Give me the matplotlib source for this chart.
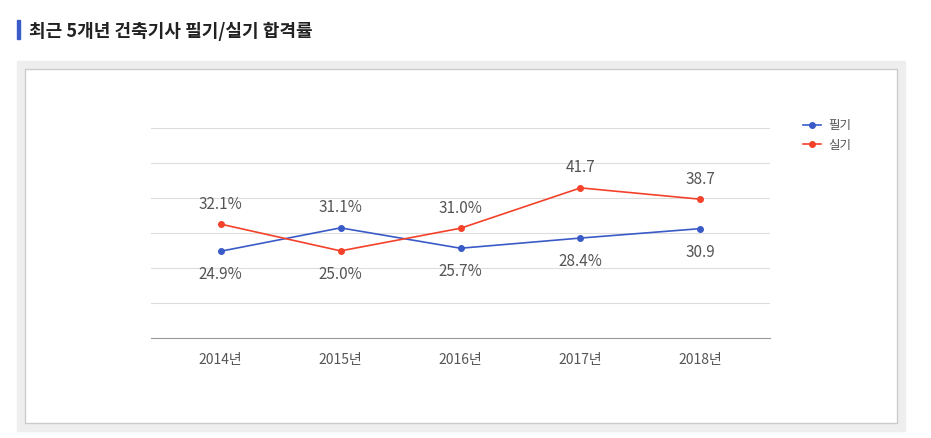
import matplotlib.pyplot as plt
from matplotlib.patches import Rectangle

plt.rcParams['font.family'] = ['Noto Sans CJK KR', 'Noto Sans CJK JP', 'Noto Sans CJK SC', 'DejaVu Sans']

years = ['2014년', '2015년', '2016년', '2017년', '2018년']
written = [24.9, 31.1, 25.7, 28.4, 30.9]
practical = [32.1, 25.0, 31.0, 41.7, 38.7]
written_labels = ['24.9%', '31.1%', '25.7%', '28.4%', '30.9']
practical_labels = ['32.1%', '25.0%', '31.0%', '41.7', '38.7']
written_above = [False, True, False, False, False]
practical_above = [True, False, True, True, True]

W, H = 931, 439
fig = plt.figure(figsize=(W / 100, H / 100), dpi=100)

def fx(px):
    return px / W

def fy(py):
    return 1 - py / H

# title and background panels
fig.patches.append(Rectangle((fx(17), fy(40)), 3 / W, 19 / H, transform=fig.transFigure,
                             color='#3b5bc8'))
fig.text(fx(29), fy(31), '최근 5개년 건축기사 필기/실기 합격률', fontsize=13, fontweight='bold',
         va='center', color='#222222')
fig.patches.append(Rectangle((fx(17), fy(432)), 888 / W, 370 / H, transform=fig.transFigure,
                             color='#eeeeee', zorder=0))
fig.patches.append(Rectangle((fx(25), fy(424)), 872 / W, 354 / H, transform=fig.transFigure,
                             facecolor='white', edgecolor='#cccccc', lw=1, zorder=0.5))

ax = fig.add_axes([fx(151), fy(339), 619 / W, 210 / H])
ax.set_zorder(3)
ax.set_facecolor('none')
ymin, step = 1.9, 9.28
ax.set_ylim(ymin, ymin + 6 * step)
ax.set_xlim(-0.58, 4.58)
for i in range(1, 7):
    ax.axhline(ymin + i * step, color='#dddddd', lw=0.8, zorder=0)
for s in ['top', 'right', 'left']:
    ax.spines[s].set_visible(False)
ax.spines['bottom'].set_color('#999999')
ax.set_yticks([])
x = range(len(years))
ax.set_xticks(list(x))
ax.set_xticklabels(years, fontsize=10, color='#555555')
ax.tick_params(axis='x', length=0, pad=10)

blue, red = '#3a5bc7', '#f4422a'
ax.plot(x, written, color=blue, marker='o', ms=4, lw=1.2)
ax.plot(x, practical, color=red, marker='o', ms=4, lw=1.2)

for xs, vals, labs, above in [(x, written, written_labels, written_above),
                              (x, practical, practical_labels, practical_above)]:
    for xi, v, lab, up in zip(xs, vals, labs, above):
        ax.annotate(lab, (xi, v), xytext=(0, 9 if up else -10), textcoords='offset points',
                    ha='center', va='bottom' if up else 'top', fontsize=11, color='#555555')

# legend
for py, col, name in [(126, blue, '필기'), (145, red, '실기')]:
    fig.lines.append(plt.Line2D([fx(803), fx(821)], [fy(py), fy(py)], color=col, lw=1.2,
                                transform=fig.transFigure, zorder=2))
    fig.lines.append(plt.Line2D([fx(812)], [fy(py)], color=col, marker='o', ms=4,
                                transform=fig.transFigure, zorder=2))
    fig.text(fx(828), fy(py), name, fontsize=9, va='center', color='#555555')

fig.savefig('out.png', dpi=100)
